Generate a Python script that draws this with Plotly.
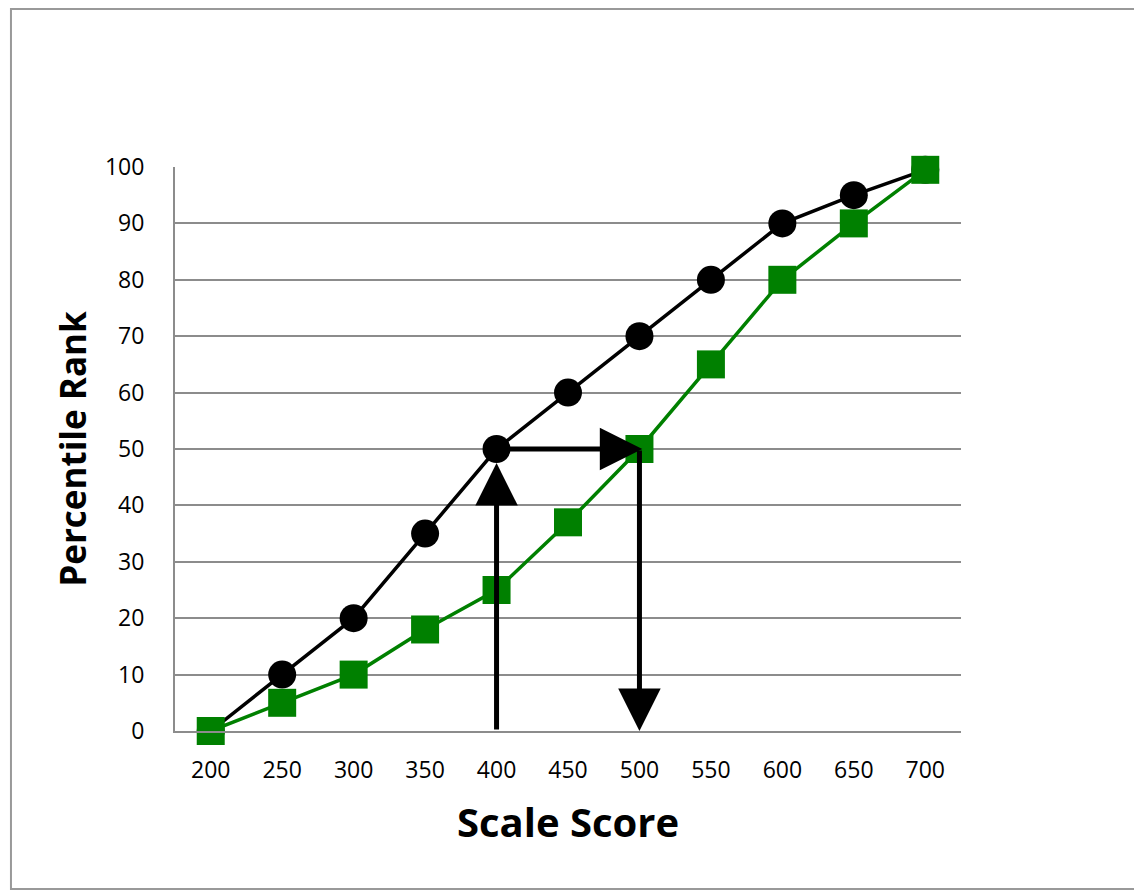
import plotly.graph_objects as go

scores = [200, 250, 300, 350, 400, 450, 500, 550, 600, 650, 700]
black_rank = [0, 10, 20, 35, 50, 60, 70, 80, 90, 95, 99.5]
green_rank = [0, 5, 10, 18, 25, 37, 50, 65, 80, 90, 99.5]
y_ticks = [0, 10, 20, 30, 40, 50, 60, 70, 80, 90, 100]

fig = go.Figure()
fig.add_trace(go.Scatter(
    x=scores, y=black_rank, mode="lines+markers",
    line=dict(color="black", width=3.5),
    marker=dict(symbol="circle", size=28, color="black"),
    showlegend=False, cliponaxis=False,
))
fig.add_trace(go.Scatter(
    x=scores, y=green_rank, mode="lines+markers",
    line=dict(color="#008000", width=3.5),
    marker=dict(symbol="square", size=28, color="#008000"),
    showlegend=False, cliponaxis=False,
))

arrows = [
    dict(x=400, y=47.5, ax=400, ay=0),
    dict(x=502, y=50, ax=400, ay=50),
    dict(x=500, y=0, ax=500, ay=50),
]
for a in arrows:
    fig.add_annotation(
        x=a["x"], y=a["y"], ax=a["ax"], ay=a["ay"],
        xref="x", yref="y", axref="x", ayref="y",
        showarrow=True, arrowhead=2, arrowsize=1.7, arrowwidth=5,
        arrowcolor="black", text="",
    )

fig.add_shape(type="rect", xref="paper", yref="paper",
              x0=-0.2087, x1=1.229, y0=-0.280, y1=1.280,
              line=dict(color="#999999", width=2), layer="below")

fig.update_xaxes(
    range=[175, 725], tickvals=scores, ticktext=[str(s) for s in scores],
    showgrid=False, showline=True, linecolor="#8c8c8c", linewidth=2,
    zeroline=False, ticks="", ticklabelstandoff=17,
    tickfont=dict(family="Open Sans", size=23, color="black"),
    title=dict(text="<b>Scale Score</b>", standoff=25,
               font=dict(family="Open Sans", size=40, color="black")),
)
fig.update_yaxes(
    range=[0, 100], tickvals=y_ticks,
    showgrid=True, gridcolor="#8c8c8c", gridwidth=2,
    showline=True, linecolor="#8c8c8c", linewidth=2,
    zeroline=False, ticks="", ticklabelstandoff=24,
    tickfont=dict(family="Open Sans", size=23, color="black"),
    title=dict(text="<b>Percentile Rank</b>", standoff=8,
               font=dict(family="Open Sans", size=35, color="black")),
)
fig.update_layout(
    width=1134, height=883,
    margin=dict(l=167, r=181, t=159, b=160),
    plot_bgcolor="white", paper_bgcolor="white",
)
fig.write_html("out.html")
